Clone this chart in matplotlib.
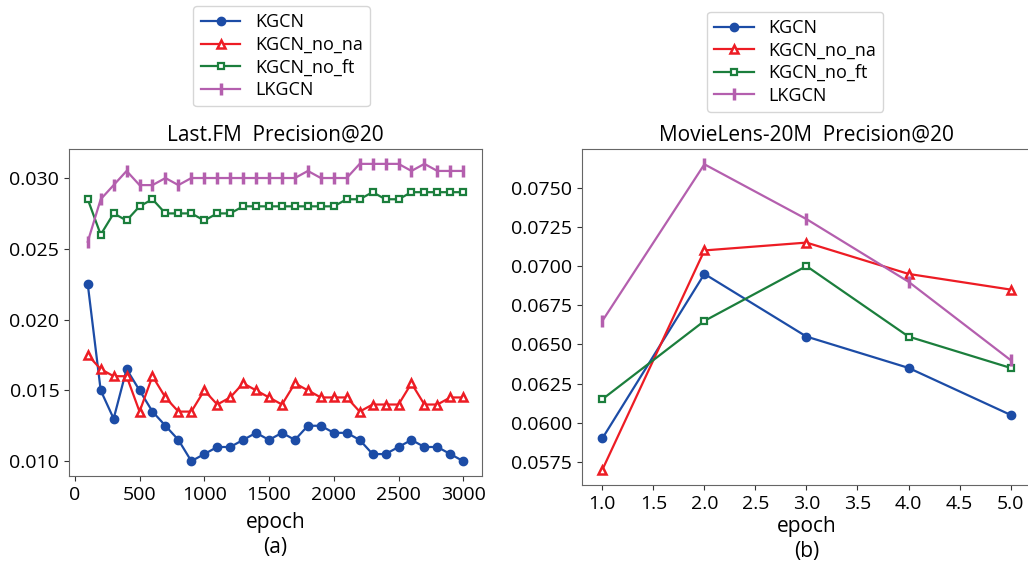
import numpy as np
import matplotlib
matplotlib.use("Agg")
import matplotlib.pyplot as plt

plt.rcParams['font.family'] = ['Open Sans', 'DejaVu Sans']

# Last.FM Precision@20
epochs_a = np.arange(100, 3001, 100)
kgcn_a = [0.0225, 0.015, 0.013, 0.0165, 0.015, 0.0135, 0.0125, 0.0115, 0.010, 0.0105,
          0.011, 0.011, 0.0115, 0.012, 0.0115, 0.012, 0.0115, 0.0125, 0.0125, 0.012,
          0.012, 0.0115, 0.0105, 0.0105, 0.011, 0.0115, 0.011, 0.011, 0.0105, 0.010]
no_na_a = [0.0175, 0.0165, 0.016, 0.016, 0.0135, 0.016, 0.0145, 0.0135, 0.0135, 0.015,
           0.014, 0.0145, 0.0155, 0.015, 0.0145, 0.014, 0.0155, 0.015, 0.0145, 0.0145,
           0.0145, 0.0135, 0.014, 0.014, 0.014, 0.0155, 0.014, 0.014, 0.0145, 0.0145]
no_ft_a = [0.0285, 0.026, 0.0275, 0.027, 0.028, 0.0285, 0.0275, 0.0275, 0.0275, 0.027,
           0.0275, 0.0275, 0.028, 0.028, 0.028, 0.028, 0.028, 0.028, 0.028, 0.028,
           0.0285, 0.0285, 0.029, 0.0285, 0.0285, 0.029, 0.029, 0.029, 0.029, 0.029]
lkgcn_a = [0.0255, 0.0285, 0.0295, 0.0305, 0.0295, 0.0295, 0.030, 0.0295, 0.030, 0.030,
           0.030, 0.030, 0.030, 0.030, 0.030, 0.030, 0.030, 0.0305, 0.030, 0.030,
           0.030, 0.031, 0.031, 0.031, 0.031, 0.0305, 0.031, 0.0305, 0.0305, 0.0305]

# MovieLens-20M Precision@20
epochs_b = [1, 2, 3, 4, 5]
kgcn_b = [0.0590, 0.0695, 0.0655, 0.0635, 0.0605]
no_na_b = [0.0570, 0.0710, 0.0715, 0.0695, 0.0685]
no_ft_b = [0.0615, 0.0665, 0.0700, 0.0655, 0.0635]
lkgcn_b = [0.0665, 0.0765, 0.0730, 0.0690, 0.0640]

names = ["KGCN", "KGCN_no_na", "KGCN_no_ft", "LKGCN"]
colors = ["#1c4ca6", "#ed1c24", "#1b7e3c", "#b45fae"]
styles = [
    dict(marker="o", markersize=6),
    dict(marker="^", markersize=6, markerfacecolor="white", markeredgewidth=1.8),
    dict(marker="s", markersize=5, markerfacecolor="white", markeredgewidth=1.6),
    dict(marker="|", markersize=9, markeredgewidth=2.5),
]

fig = plt.figure(figsize=(10.28, 5.61), dpi=100)
ax1 = fig.add_axes([0.0671, 0.1515, 0.4018, 0.5829])
ax2 = fig.add_axes([0.5661, 0.1355, 0.4368, 0.5989])

for ax, x, series in [(ax1, epochs_a, [kgcn_a, no_na_a, no_ft_a, lkgcn_a]),
                      (ax2, epochs_b, [kgcn_b, no_na_b, no_ft_b, lkgcn_b])]:
    for y, name, c, st in zip(series, names, colors, styles):
        ax.plot(x, y, color=c, lw=1.6, label=name, markeredgecolor=c, **st)
    for s in ax.spines.values():
        s.set_color("#666666")
    ax.tick_params(labelsize=14, colors="#333333", labelcolor="black")

ax1.set_title("Last.FM  Precision@20", fontsize=15)
ax2.set_title("MovieLens-20M  Precision@20", fontsize=15)
ax1.set_yticks([0.010, 0.015, 0.020, 0.025, 0.030])
ax1.set_yticklabels(["0.010", "0.015", "0.020", "0.025", "0.030"])
ax2.set_yticks([0.0575, 0.0600, 0.0625, 0.0650, 0.0675, 0.0700, 0.0725, 0.0750])
ax2.set_yticklabels(["0.0575", "0.0600", "0.0625", "0.0650", "0.0675", "0.0700", "0.0725", "0.0750"])
ax1.set_xticks([0, 500, 1000, 1500, 2000, 2500, 3000])
xt_b = [1.0, 1.5, 2.0, 2.5, 3.0, 3.5, 4.0, 4.5, 5.0]
ax2.set_xticks(xt_b)
ax2.set_xticklabels([f"{v:.1f}" for v in xt_b])
ax1.set_xlabel("epoch\n(a)", fontsize=15, linespacing=1.25, labelpad=6)
ax2.set_xlabel("epoch\n(b)", fontsize=15, linespacing=1.25, labelpad=2.5)

ax1.legend(loc="lower center", bbox_to_anchor=(0.515, 1.12), fontsize=13,
           handlelength=2.2, labelspacing=0.25, borderaxespad=0.2)
ax2.legend(loc="lower center", bbox_to_anchor=(0.475, 1.1), fontsize=13,
           handlelength=2.2, labelspacing=0.25, borderaxespad=0.2)

fig.savefig("out.png", dpi=100)
